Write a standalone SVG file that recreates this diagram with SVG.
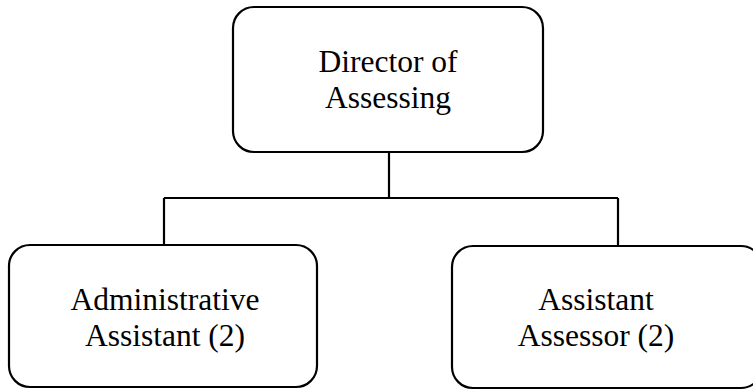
<svg xmlns="http://www.w3.org/2000/svg" width="753" height="390" viewBox="0 0 753 390">
<style>
.box{fill:#fff;stroke:#000;stroke-width:2.2}
.conn{fill:none;stroke:#000;stroke-width:2.2}
.lbl{font-family:"Liberation Serif","Times New Roman",serif;font-size:31.5px;fill:#000;text-anchor:middle}
</style>
<rect width="753" height="390" fill="#fff"/>
<g id="connectors">
<path class="conn" d="M389 152 V198"/>
<path class="conn" d="M164 198 H618"/>
<path class="conn" d="M164 198 V245"/>
<path class="conn" d="M618 198 V246"/>
</g>
<g id="director">
<rect class="box" x="233" y="7" width="310" height="145" rx="21"/>
<text class="lbl" x="388" y="72">Director of</text>
<text class="lbl" x="388" y="108">Assessing</text>
</g>
<g id="admin-assistant">
<rect class="box" x="9" y="245" width="308" height="142" rx="21"/>
<text class="lbl" x="165" y="310">Administrative</text>
<text class="lbl" x="165" y="346">Assistant (2)</text>
</g>
<g id="assistant-assessor">
<rect class="box" x="452" y="246" width="310" height="142" rx="21"/>
<text class="lbl" x="596" y="310">Assistant</text>
<text class="lbl" x="596" y="346">Assessor (2)</text>
</g>
</svg>
